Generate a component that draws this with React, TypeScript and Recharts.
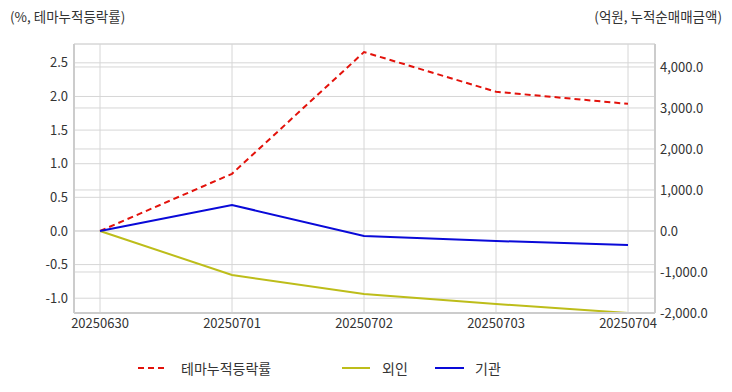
import React from "react";
import {
  LineChart,
  Line,
  XAxis,
  YAxis,
  CartesianGrid,
  Legend,
} from "recharts";

const categories = ["20250630", "20250701", "20250702", "20250703", "20250704"];
const themeReturn = [0, 0.85, 2.66, 2.07, 1.89];
const foreignNet = [0, -1073, -1537, -1780, -2000];
const instNet = [0, 634, -122, -244, -341];

const leftTicks = [-1.0, -0.5, 0.0, 0.5, 1.0, 1.5, 2.0, 2.5];
const rightTicks = [-2000, -1000, 0, 1000, 2000, 3000, 4000];
const leftDomain = [-1.22, 2.78];
const rightDomain = [-2000, 4560];

const leftTitle = "(%, 테마누적등락률)";
const rightTitle = "(억원, 누적순매매금액)";

const seriesNames = { theme: "테마누적등락률", foreign: "외인", inst: "기관" };
const colors = { theme: "#e3120b", foreign: "#bdbd1a", inst: "#0a0ad8" };

const data = categories.map((c, i) => ({
  date: c,
  theme: themeReturn[i],
  foreign: foreignNet[i],
  inst: instNet[i],
}));

const FONT = "'Noto Sans CJK KR', 'Noto Sans', sans-serif";
const TEXT = "#333333";
const GRID = "#d6d6d6";
const BORDER = "#cccccc";

const fmtRight = (v: number) =>
  v.toLocaleString("en-US", { minimumFractionDigits: 1, maximumFractionDigits: 1 });

const LegendContent = () => {
  const items = [
    { key: "theme", dash: "6 4", len: 28, gap: 15 },
    { key: "foreign", dash: undefined, len: 28, gap: 12 },
    { key: "inst", dash: undefined, len: 29, gap: 11 },
  ];
  const starts = [138, 342, 435];
  return (
    <div style={{ position: "relative", height: 20, fontFamily: FONT, fontSize: 14, color: TEXT }}>
      {items.map((it, i) => (
        <div
          key={it.key}
          style={{ position: "absolute", left: starts[i], top: 0, display: "flex", alignItems: "center", whiteSpace: "nowrap" }}
        >
          <svg width={it.len} height={10} style={{ marginRight: it.gap }}>
            <line
              x1={0}
              y1={5}
              x2={it.len}
              y2={5}
              stroke={(colors as any)[it.key]}
              strokeWidth={2}
              strokeDasharray={it.dash}
            />
          </svg>
          <span>{(seriesNames as any)[it.key]}</span>
        </div>
      ))}
    </div>
  );
};

export default function App() {
  return (
    <div style={{ position: "absolute", left: 0, top: 0, width: 732, height: 392, background: "#fff" }}>
      <div style={{ position: "absolute", left: 10, top: 6, fontFamily: FONT, fontSize: 13.5, color: TEXT }}>
        {leftTitle}
      </div>
      <div style={{ position: "absolute", right: 10, top: 6, fontFamily: FONT, fontSize: 13.5, color: TEXT }}>
        {rightTitle}
      </div>
      <LineChart
        width={732}
        height={392}
        data={data}
        margin={{ top: 44, right: 0, bottom: 12, left: 0 }}
      >
        <CartesianGrid yAxisId="left" stroke={GRID} vertical={true} horizontal={true} />
        <CartesianGrid yAxisId="right" stroke={GRID} vertical={false} horizontal={true} />
        <XAxis
          dataKey="date"
          scale="point"
          padding={{ left: 26, right: 27 }}
          axisLine={{ stroke: BORDER, strokeWidth: 2 }}
          tickLine={false}
          tickSize={4}
          height={30}
          tick={{ fill: TEXT, fontSize: 13, fontFamily: FONT }}
          interval={0}
        />
        <XAxis
          xAxisId="top"
          dataKey="date"
          orientation="top"
          scale="point"
          padding={{ left: 26, right: 27 }}
          height={0}
          tick={false}
          tickLine={false}
          axisLine={{ stroke: BORDER, strokeWidth: 2 }}
        />
        <YAxis
          yAxisId="left"
          orientation="left"
          width={74}
          domain={leftDomain}
          ticks={leftTicks}
          allowDataOverflow
          axisLine={{ stroke: BORDER, strokeWidth: 2 }}
          tickLine={false}
          tickSize={4}
          tickFormatter={(v: number) => v.toFixed(1)}
          tick={{ fill: TEXT, fontSize: 13, fontFamily: FONT }}
        />
        <YAxis
          yAxisId="right"
          orientation="right"
          width={77}
          domain={rightDomain}
          ticks={rightTicks}
          allowDataOverflow
          axisLine={{ stroke: BORDER, strokeWidth: 2 }}
          tickLine={false}
          tickSize={3}
          tickFormatter={fmtRight}
          tick={{ fill: TEXT, fontSize: 13, fontFamily: FONT }}
        />
        <Line
          yAxisId="left"
          type="linear"
          dataKey="theme"
          name={seriesNames.theme}
          stroke={colors.theme}
          strokeWidth={2}
          strokeDasharray="6 4"
          dot={false}
          activeDot={false}
          isAnimationActive={false}
        />
        <Line
          yAxisId="right"
          type="linear"
          dataKey="foreign"
          name={seriesNames.foreign}
          stroke={colors.foreign}
          strokeWidth={2}
          dot={false}
          activeDot={false}
          isAnimationActive={false}
        />
        <Line
          yAxisId="right"
          type="linear"
          dataKey="inst"
          name={seriesNames.inst}
          stroke={colors.inst}
          strokeWidth={2}
          dot={false}
          activeDot={false}
          isAnimationActive={false}
        />
        <Legend
          verticalAlign="bottom"
          height={37}
          wrapperStyle={{ top: 358, left: 0, width: 732 }}
          content={<LegendContent />}
        />
      </LineChart>
    </div>
  );
}
